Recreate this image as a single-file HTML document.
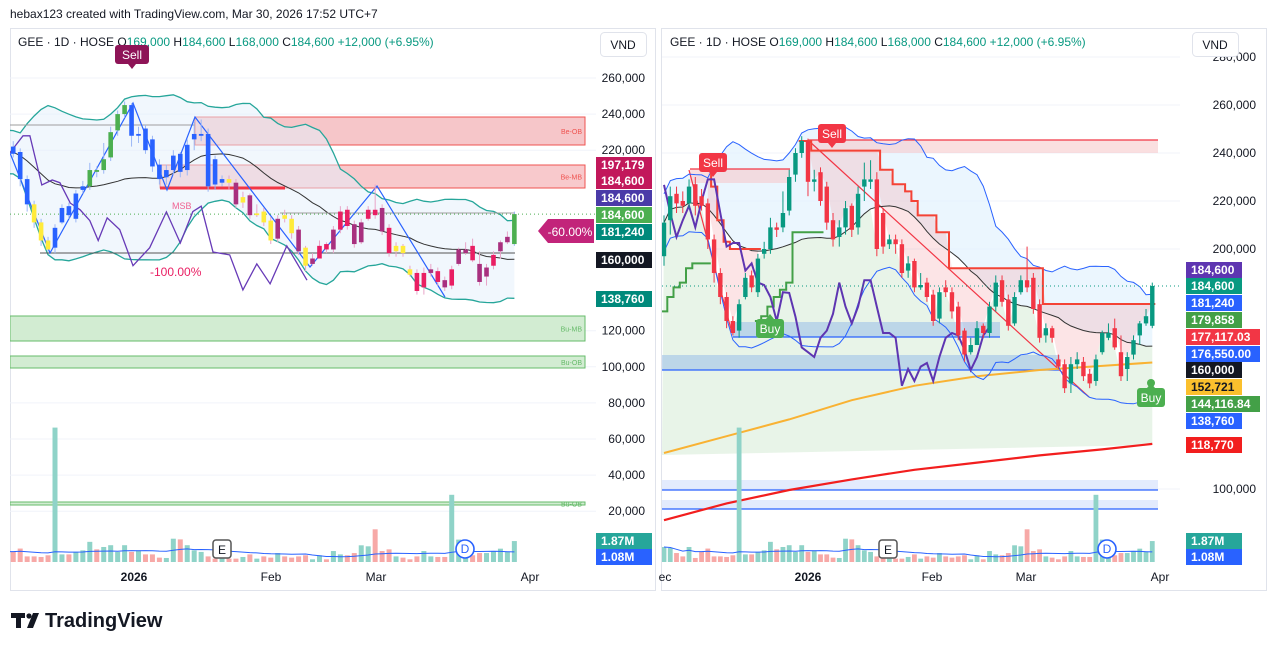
<!DOCTYPE html>
<html><head><meta charset="utf-8">
<style>
html,body{margin:0;padding:0;background:#fff;}
svg{display:block;font-family:"Liberation Sans",sans-serif;}
</style></head>
<body>
<svg id="root" width="1276" height="650" viewBox="0 0 1276 650" xmlns="http://www.w3.org/2000/svg">
<defs>
<clipPath id="clipL"><rect x="10" y="29" width="586" height="537"/></clipPath>
<clipPath id="clipR"><rect x="662" y="29" width="518" height="537"/></clipPath>
</defs>
<rect x="0" y="0" width="1276" height="650" fill="#ffffff"/>
<text x="10" y="18" font-size="12" fill="#131722">hebax123 created with TradingView.com, Mar 30, 2026 17:52 UTC+7</text>
<rect x="10.5" y="28.5" width="645" height="562" fill="none" stroke="#e0e3eb"/>
<rect x="661.5" y="28.5" width="605" height="562" fill="none" stroke="#e0e3eb"/>
<g id="gL" clip-path="url(#clipL)"></g>
<g id="gR" clip-path="url(#clipR)"></g>
<g id="gA"></g>
<text x="18" y="46" font-size="12" fill="#131722">GEE · 1D · HOSE  O<tspan fill="#089981">169,000</tspan>  H<tspan fill="#089981">184,600</tspan>  L<tspan fill="#089981">168,000</tspan>  C<tspan fill="#089981">184,600</tspan>  <tspan fill="#089981">+12,000 (+6.95%)</tspan></text>
<text x="670" y="46" font-size="12" fill="#131722">GEE · 1D · HOSE  O<tspan fill="#089981">169,000</tspan>  H<tspan fill="#089981">184,600</tspan>  L<tspan fill="#089981">168,000</tspan>  C<tspan fill="#089981">184,600</tspan>  <tspan fill="#089981">+12,000 (+6.95%)</tspan></text>
<g>
<rect x="11" y="613" width="14" height="5" fill="#131722"/>
<rect x="16" y="613" width="5" height="15" fill="#131722"/>
<circle cx="29" cy="616" r="2.6" fill="#131722"/>
<polygon points="33,613 39,613 33,628 27,628" fill="#131722"/>
<text x="45" y="627" font-size="20" font-weight="bold" fill="#131722">TradingView</text>
</g>
</svg>
<script>
// ---------- DATA ----------
const opens = [197,212,223,220,219,227,222,219,204,190,180,170,166,180,189,182,198,200,209,209,216,231,240,245,228,232,226,212,205,209,218,209,226,228,229,215,202,204,202,191,195,184,186,181,171,184,182,176,166,157,160,168,165,176,187,179,169,182,187,188,177,164,167,154,152,144,152,153,148,145,157,163,167,157,150,156,164,169,168];
const closes = [211,222,219,218,226,218,218,204,190,180,170,165,177,188,184,196,200,209,208,215,230,240,245,228,229,220,211,204,209,217,208,223,229,229,200,201,204,202,190,194,184,185,180,170,182,182,174,164,156,160,167,165,176,186,178,168,180,187,184,175,163,167,163,151,142,152,154,147,144,154,165,165,159,147,155,162,169,172,184.6];
const highs = [214,226,226,224,229,230,225,221,206,192,182,172,179,190,191,198,203,213,211,224,233,242,247,246,233,234,228,215,212,220,219,226,236,237,232,217,206,206,204,197,196,190,188,183,184,187,184,178,167,163,170,169,178,189,189,181,182,189,201,190,179,169,168,156,154,155,157,155,150,156,166,169,171,164,157,164,170,175,186];
const lows = [193,206,215,215,217,214,216,200,186,177,167,164,163,179,182,180,196,198,205,207,214,228,238,222,224,218,208,201,201,206,205,206,220,225,197,198,200,198,188,188,182,183,178,168,169,180,171,162,153,156,164,163,163,174,176,166,168,181,182,173,161,161,161,150,140,140,150,145,142,143,156,162,158,145,145,154,160,168,167];
const volumes = [1.34,1.25,.8,.5,1.34,.36,.9,1.2,.5,.5,.45,.6,12.0,.68,.68,.9,1.04,1.8,1.13,1.34,1.5,.9,1.5,.9,1.04,.68,.68,.39,.36,2.08,2.02,1.5,1.04,.9,.5,.3,.3,.3,.3,.45,.68,.3,.5,.39,.8,.5,.39,.5,.6,.24,.6,.24,.98,.68,.6,.8,1.49,1.4,2.92,.98,1.13,.5,.39,.24,.5,.98,.5,.45,.45,6.0,2.0,.6,.6,.8,.8,.98,1.19,.89,1.87];
const leftTone = "bbbbbbbbbyyybbbbbggggggbbbbbbbbbbbbbbymymyyymyymymppmppmmppmpyyyppmpmpmmpmmpmmg";
const purpleIdx = [0,1,2,3,4,5,6,7,8,9,10,11,12,13,14,15,16,17,18,19,20,21,22,23,24,25,26,27,28,29,30,31,32,33,34,35,36,37,38,39,40,41,42,43,44,45,46,47,48,49,50,51,52];
const purpleVal = [226.7,215,205,212,218,209,220,229,229,215,201,202.5,202.5,191,194,186,185,180,170,182,181.7,171.7,159,157,155,163,166,173,186,176,169,176,187,187,176,165,165,163,143,150,145,151,152.5,145,155,163,165,164,158,149.6,155,164,167.5];
const leftPurpleIdx = [5.5,7.4,8.4,10.1,11.6,12.7,14.2,15.6,17,18.2,19.5,21.3,23.2,25.6,28,30,31.8,33,34.7,37.1,39,41,42.9,45.3,48.2];
const leftPurpleVal = [218.5,228,228,200.7,203.5,202,190.7,187,181,170,182.5,176,156,166,185.8,168.6,186,189,163.6,162,142.6,157,146,167,148];
const greenStepIdx = [0,1,2,3,4,5,6,7,null,15,16,17,18,19,20,21,22,23,24,25];
const greenStepVal = [174,180,184,186,192,194,194,194,null,170,172,176,180,183,186,207,207,207,207,207];
const redStepIdx = [7,8,9,10,11,12,13,14,15,null,22,23,24,25,26,27,28,29,30,31,32,33,34,35,36,37,38,39,40,41,42,43,44,45,46,47,48,49,50,51,52,53,54,55,56,57,58,59,60,61,62,63,64,65,66,67,68,69,70,71,72,73,74,75,76,77,78];
const redStepVal = [233,226,212,203,200,200,200,200,200,null,245,245,241,241,241,241,241,241,241,241,241,241,241,233,233,227,227,224,220,214,214,214,207,207,192,192,192,192,192,192,192,192,192,192,192,192,192,192,192,177.1,177.1,177.1,177.1,177.1,177.1,177.1,177.1,177.1,177.1,177.1,177.1,177.1,177.1,177.1,177.1,177.1,177.1];
const yellowIdx = [0,10,20,30,40,50,60,70,78];
const yellowVal = [115,122,129,137,143,147,149.6,151.3,152.7];
const redMaIdx = [0,10,20,30,40,50,60,70,78];
const redMaVal = [87,94,99.6,104,108,111,114,116.5,118.8];
const leftTicks = [260,240,220,120,100,80,60,40,20];
const rightTicks = [280,260,240,220,200,100];
const leftTimeLabels = ["2026","Feb","Mar","Apr"];
const rightTimeLabels = ["ec","2026","Feb","Mar","Apr"];

// ---------- SCALES ----------
const lx = i => 55 + (i - 12) * 6.96;
const ly = p => 78 + (260 - p) / 20 * 36.1;
const rx = i => 664 + i * 6.26;
const ry = p => 105 + (260 - p) / 20 * 48;
const VBASE = 562, VPX = 11.2;
const NS = "http://www.w3.org/2000/svg";
const gL = document.getElementById('gL'), gR = document.getElementById('gR'), gA = document.getElementById('gA');
function mk(tag, attrs, parent){ const e=document.createElementNS(NS,tag); for(const k in attrs) e.setAttribute(k,attrs[k]); parent.appendChild(e); return e; }
function fmt(v){ return Math.round(v*1000).toLocaleString('en-US'); }

const sma = closes.map((c,i)=>{const w=closes.slice(Math.max(0,i-19),i+1);return w.reduce((a,b)=>a+b,0)/w.length;});
const sd = closes.map((c,i)=>{const w=closes.slice(Math.max(0,i-19),i+1);const m=sma[i];return Math.sqrt(w.reduce((a,b)=>a+(b-m)*(b-m),0)/w.length);});
const up = sma.map((m,i)=>m+2*Math.max(sd[i],6));
const lo = sma.map((m,i)=>m-2*Math.max(sd[i],6));
const vma = volumes.map((v,i)=>{const w=volumes.slice(Math.max(0,i-19),i+1).map(x=>Math.min(x,2.2));return w.reduce((a,b)=>a+b,0)/w.length;});

function pathFrom(idx, vals, xf, yf){ let d="", pen=false; idx.forEach((ix,k)=>{ if(ix===null||vals[k]===null){pen=false;return;} d+=(pen?"L":"M")+xf(ix).toFixed(1)+","+yf(vals[k]).toFixed(1); pen=true; }); return d; }
function stepFrom(idx, vals, xf, yf){ let d="", pen=false, py=0; idx.forEach((ix,k)=>{ if(ix===null){pen=false;return;} const x=xf(ix), y=yf(vals[k]); if(!pen){d+="M"+(x-3).toFixed(1)+","+y.toFixed(1);pen=true;} else {d+="L"+(x-3).toFixed(1)+","+py.toFixed(1)+"L"+(x-3).toFixed(1)+","+y.toFixed(1);} d+="L"+(x+3).toFixed(1)+","+y.toFixed(1); py=y; }); return d; }
const allIdx = closes.map((c,i)=>i);

// ---------- GRID ----------
leftTicks.forEach(t=>{ const l=mk('line',{x1:10,x2:596,y1:ly(t),y2:ly(t),stroke:'#f0f3fa'},gL);
  });
rightTicks.forEach(t=>{ const l=mk('line',{x1:662,x2:1180,y1:ry(t),y2:ry(t),stroke:'#f0f3fa'},gR);
  });

// ---------- LEFT PANEL ----------
(function(){
 const zones=[[195,117,145,'#f6c6c9','#ef5350','Be-OB'],[160,165,188,'#f8c9cc','#ef5350','Be-MB'],[10,316,341,'#d2ecd2','#66bb6a','Bu-MB'],[10,356,368,'#d2ecd2','#66bb6a','Bu-OB'],[10,502,505,'#d2ecd2','#66bb6a','Bu-OB']];
 zones.forEach(z=>{ const r=mk('rect',{x:z[0],y:z[1],width:585-z[0],height:z[2]-z[1],fill:z[3],stroke:z[4],'stroke-width':1},gL);
  
 const t=mk('text',{x:582,y:(z[1]+z[2])/2+3,'font-size':7,fill:z[4],'text-anchor':'end'},gL); t.textContent=z[5];
   });
 let d="M"+allIdx.map(i=>lx(i).toFixed(1)+","+ly(up[i]).toFixed(1)).join("L");
 d+="L"+allIdx.slice().reverse().map(i=>lx(i).toFixed(1)+","+ly(lo[i]).toFixed(1)).join("L")+"Z";
 const bf=mk('path',{d:d,fill:'#e3f0fb','fill-opacity':0.5},gL);  
 const bu=mk('path',{d:pathFrom(allIdx,up,lx,ly),fill:'none',stroke:'#26a69a','stroke-width':1.3},gL);  
 const bl=mk('path',{d:pathFrom(allIdx,lo,lx,ly),fill:'none',stroke:'#26a69a','stroke-width':1.3},gL);  
 const sm=mk('path',{d:pathFrom(allIdx,sma,lx,ly),fill:'none',stroke:'#333','stroke-width':1},gL);  
 [[10,125,195,125,'#9e9e9e',1],[40,253,515,253,'#555',1],[160,188,285,188,'#f23645',3],[280,213,515,213,'#9e9e9e',1]].forEach(a=>{const l=mk('line',{x1:a[0],y1:a[1],x2:a[2],y2:a[3],stroke:a[4],'stroke-width':a[5]},gL);
  });
 const zz=mk('polyline',{points:"10,153 50,253 133,103 167,190 195,117 310,267 377,186 445,297",fill:'none',stroke:'#2962ff','stroke-width':1.2},gL);
  
 const pl=mk('path',{d:pathFrom(leftPurpleIdx,leftPurpleVal,lx,ly),fill:'none',stroke:'#673ab7','stroke-width':1.3},gL);
  
 const dl=mk('line',{x1:10,x2:596,y1:ly(184.6),y2:ly(184.6),stroke:'#4caf50','stroke-dasharray':'1 3'},gL);  
 const msb=mk('text',{x:172,y:209,'font-size':9,fill:'#f06292'},gL); msb.textContent='MSB';  
 const pc=mk('text',{x:150,y:276,'font-size':12,fill:'#e91e63'},gL); pc.textContent='-100.00%';  
 volumes.forEach((v,i)=>{ const r=mk('rect',{x:lx(i)-2.5,y:VBASE-v*VPX,width:5,height:v*VPX,fill:closes[i]>=opens[i]?'#8fd3c8':'#f7a9a7'},gL);
   });
 const vm=mk('path',{d:pathFrom(allIdx,vma,lx,p=>VBASE-p*VPX),fill:'none',stroke:'#2962ff','stroke-width':1},gL);  
 const tc={b:'#2962ff',y:'#ffeb3b',g:'#4caf50',m:'#a8307f',p:'#e91e63'};
 allIdx.forEach(i=>{ const t=leftTone[i]; const x=lx(i);
 const w=mk('line',{x1:x,x2:x,y1:ly(highs[i]),y2:ly(lows[i]),stroke:(t==='b'||t==='g'||i<37)?'#9bb6f5':'#e8a5c8','stroke-width':1},gL);
  
 const top=ly(Math.max(opens[i],closes[i])), bot=ly(Math.min(opens[i],closes[i]));
 const b=mk('rect',{x:x-2.3,y:top,width:4.6,height:Math.max(1,bot-top),fill:tc[t]},gL);
   });
})();

// ---------- RIGHT PANEL ----------
(function(){
 let ga="M"+allIdx.map(i=>rx(i).toFixed(1)+","+ry(Math.min(sma[i],closes[i])).toFixed(1)).join("L")+"L"+rx(78)+",445L662,455Z";
 const gf=mk('path',{d:ga,fill:'#e6f3e6','fill-opacity':0.9},gR);  
 let d="M"+allIdx.map(i=>rx(i).toFixed(1)+","+ry(up[i]).toFixed(1)).join("L");
 d+="L"+allIdx.slice().reverse().map(i=>rx(i).toFixed(1)+","+ry(sma[i]).toFixed(1)).join("L")+"Z";
 const bf=mk('path',{d:d,fill:'#e3f2fd','fill-opacity':0.7},gR);  
 let pd="", seg=[];
 const flush=()=>{ if(seg.length>1){ pd+="M"+seg.map(k=>rx(redStepIdx[k]).toFixed(1)+","+ry(redStepVal[k]).toFixed(1)).join("L")+"L"+seg.slice().reverse().map(k=>rx(redStepIdx[k]).toFixed(1)+","+ry(Math.min(redStepVal[k],Math.max(opens[redStepIdx[k]],closes[redStepIdx[k]]))).toFixed(1)).join("L")+"Z"; } seg=[]; };
 redStepIdx.forEach((ix,k)=>{ if(ix===null){flush();} else seg.push(k); }); flush();
 const pf=mk('path',{d:pd,fill:'#f4a6ad','fill-opacity':0.3},gR);  
 [[808,140,1158,153,'#f6c9cc','#f23645'],[690,169,790,183,'#f6c9cc','#f23645'],[733,322,1000,337,'#9ec2e8','#2962ff'],[662,355,1060,370,'#9ec2e8','#2962ff'],[662,480,1158,490,'#d1defc','#2962ff'],[662,500,1158,509,'#d1defc','#2962ff']].forEach(z=>{
 const r=mk('rect',{x:z[0],y:z[1],width:z[2]-z[0],height:z[3]-z[1],fill:z[4],'fill-opacity':0.6},gR);  
 const ly2 = z[5]==='#f23645'?z[1]:z[3];
 const l=mk('line',{x1:z[0],x2:z[2],y1:ly2,y2:ly2,stroke:z[5],'stroke-width':1.2},gR);   });
 [[689,170,732,333],[809,141,1089,397]].forEach(a=>{const l=mk('line',{x1:a[0],y1:a[1],x2:a[2],y2:a[3],stroke:'#f23645','stroke-width':1.2},gR);
  });
 const ym=mk('path',{d:pathFrom(yellowIdx,yellowVal,rx,ry),fill:'none',stroke:'#f9b233','stroke-width':2},gR);  
 const rm=mk('path',{d:pathFrom(redMaIdx,redMaVal,rx,ry),fill:'none',stroke:'#f21e1e','stroke-width':2.2},gR);  
 const bu=mk('path',{d:pathFrom(allIdx,up,rx,ry),fill:'none',stroke:'#2962ff','stroke-width':1},gR);  
 const bl=mk('path',{d:pathFrom(allIdx,lo,rx,ry),fill:'none',stroke:'#2962ff','stroke-width':1},gR);  
 const sm=mk('path',{d:pathFrom(allIdx,sma,rx,ry),fill:'none',stroke:'#333','stroke-width':1},gR);  
 const gs=mk('path',{d:stepFrom(greenStepIdx,greenStepVal,rx,ry),fill:'none',stroke:'#43a047','stroke-width':2},gR);  
 const rs=mk('path',{d:stepFrom(redStepIdx,redStepVal,rx,ry),fill:'none',stroke:'#f44336','stroke-width':2},gR);  
 const pl=mk('path',{d:pathFrom(purpleIdx,purpleVal,rx,ry),fill:'none',stroke:'#5e35b1','stroke-width':2},gR);  
 const dl=mk('line',{x1:662,x2:1180,y1:ry(184.6),y2:ry(184.6),stroke:'#089981','stroke-dasharray':'1 3'},gR);  
 volumes.forEach((v,i)=>{ const r=mk('rect',{x:rx(i)-2.4,y:VBASE-v*VPX,width:4.8,height:v*VPX,fill:closes[i]>=opens[i]?'#8fd3c8':'#f7a9a7'},gR);
   });
 const vm=mk('path',{d:pathFrom(allIdx,vma,rx,p=>VBASE-p*VPX),fill:'none',stroke:'#2962ff','stroke-width':1},gR);  
 allIdx.forEach(i=>{ const x=rx(i), c=closes[i]>=opens[i]?'#089981':'#f23645';
 const w=mk('line',{x1:x,x2:x,y1:ry(highs[i]),y2:ry(lows[i]),stroke:c,'stroke-width':1},gR);
  
 const top=ry(Math.max(opens[i],closes[i])), bot=ry(Math.min(opens[i],closes[i]));
 const b=mk('rect',{x:x-2.2,y:top,width:4.4,height:Math.max(1,bot-top),fill:c},gR);
   });
})();

// ---------- SIGNAL LABELS ----------
function signal(x,y,w,txt,col,down,name,parent){
 const g=mk('g',{},parent);
  
 mk('rect',{x:x-w/2,y:y,width:w,height:19,rx:3,fill:col},g);
 const py = down? y+19 : y;
 mk('polygon',{points: down? `${x-4},${py} ${x+4},${py} ${x},${py+5}` : `${x-4},${py} ${x+4},${py} ${x},${py-5}`,fill:col},g);
 const t=mk('text',{x:x,y:y+14,'font-size':12,fill:'#fff','text-anchor':'middle'},g); t.textContent=txt;
}
signal(132,45,34,'Sell','#8e1457',true,'left-sell-signal',document.getElementById('root'));
signal(713,153,28,'Sell','#f23645',true,'right-sell-signal-1',gR);
signal(832,124,28,'Sell','#f23645',true,'right-sell-signal-2',gR);
signal(770,319,28,'Buy','#4caf50',false,'right-buy-signal-1',gR);
signal(1151,388,28,'Buy','#4caf50',false,'right-buy-signal-2',gR);
const bdot=mk('circle',{cx:1151,cy:383,r:4,fill:'#4caf50'},gR);  

// ---------- EVENT MARKERS ----------
[[222,'E'],[888,'E']].forEach(m=>{ const g=mk('g',{},gA);  
 mk('rect',{x:m[0]-9,y:540,width:18,height:18,rx:3,fill:'#fff',stroke:'#555','stroke-width':1.5},g);
 const t=mk('text',{x:m[0],y:554,'font-size':12,'text-anchor':'middle',fill:'#131722'},g); t.textContent=m[1]; });
[[465,'D'],[1107,'D']].forEach(m=>{ const g=mk('g',{},gA);  
 mk('circle',{cx:m[0],cy:549,r:9,fill:'#fff',stroke:'#2962ff','stroke-width':1.6},g);
 const t=mk('text',{x:m[0],y:553,'font-size':12,'text-anchor':'middle',fill:'#2962ff'},g); t.textContent=m[1]; });

// ---------- AXES ----------
leftTicks.forEach(t=>{ const e=mk('text',{x:645,y:ly(t)+4,'font-size':12,'text-anchor':'end',fill:'#131722'},gA); e.textContent=fmt(t);
   });
rightTicks.forEach(t=>{ const e=mk('text',{x:1256,y:ry(t)+4,'font-size':12,'text-anchor':'end',fill:'#131722'},gA); e.textContent=fmt(t);
   });
const leftTimeX=[134,271,376,530], rightTimeX=[665,808,932,1026,1160];
leftTimeLabels.forEach((s,k)=>{ const e=mk('text',{x:leftTimeX[k],y:581,'font-size':12,'text-anchor':'middle',fill:'#131722','font-weight':s==='2026'?'bold':'normal'},gA); e.textContent=s;
   });
rightTimeLabels.forEach((s,k)=>{ const e=mk('text',{x:rightTimeX[k],y:581,'font-size':12,'text-anchor':'middle',fill:'#131722','font-weight':s==='2026'?'bold':'normal'},gA); e.textContent=s;
   });
[[600,'left'],[1192,'right']].forEach(v=>{ const g=mk('g',{},gA);  
 mk('rect',{x:v[0]+0.5,y:32.5,width:46,height:24,rx:4,fill:'#fff',stroke:'#e0e3eb'},g);
 const t=mk('text',{x:v[0]+23,y:49,'font-size':12,'text-anchor':'middle',fill:'#131722'},g); t.textContent='VND'; });

// ---------- PRICE LABELS ----------
const leftLabels=[[157,'197,179','#c2185b','#fff'],[173,'184,600','#c2185b','#fff'],[190,'184,600','#4a3aa8','#fff'],[207,'184,600','#4caf50','#fff'],[224,'181,240','#00897b','#fff'],[252,'160,000','#131722','#fff'],[291,'138,760','#00897b','#fff'],[533,'1.87M','#26a69a','#fff'],[549,'1.08M','#2962ff','#fff']];
leftLabels.forEach(l=>{ const g=mk('g',{},gA);  
 mk('rect',{x:596,y:l[0],width:56,height:16,fill:l[2]},g);
 const t=mk('text',{x:601,y:l[0]+12,'font-size':12,fill:l[3],'font-weight':'bold'},g); t.textContent=l[1]; });
const rightLabels=[[262,'184,600','#5e35b1','#fff'],[278,'184,600','#089981','#fff'],[295,'181,240','#2962ff','#fff'],[312,'179,858','#43a047','#fff'],[329,'177,117.03','#f23645','#fff'],[346,'176,550.00','#2962ff','#fff'],[362,'160,000','#131722','#fff'],[379,'152,721','#fbc02d','#131722'],[396,'144,116.84','#43a047','#fff'],[413,'138,760','#2962ff','#fff'],[437,'118,770','#f21e1e','#fff'],[533,'1.87M','#26a69a','#fff'],[549,'1.08M','#2962ff','#fff']];
rightLabels.forEach(l=>{ const g=mk('g',{},gA);  
 mk('rect',{x:1186,y:l[0],width:l[1].length>8?74:56,height:16,fill:l[2]},g);
 const t=mk('text',{x:1191,y:l[0]+12,'font-size':12,fill:l[3],'font-weight':'bold'},g); t.textContent=l[1]; });
(function(){ const g=mk('g',{},gA);  
 mk('polygon',{points:'538,231 548,219 594,219 594,243 548,243',fill:'#c2247a'},g);
 const t=mk('text',{x:570,y:236,'font-size':12,'text-anchor':'middle',fill:'#fff'},g); t.textContent='-60.00%'; })();
</script>
</body></html>
